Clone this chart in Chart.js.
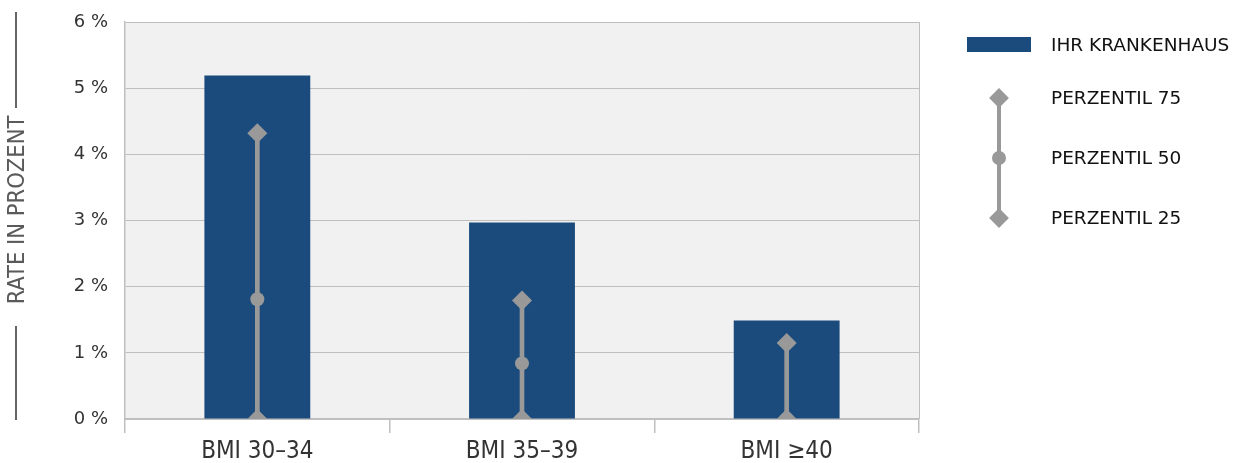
<!DOCTYPE html>
<html lang="de">
<head>
<meta charset="utf-8">
<title>Rate in Prozent nach BMI</title>
<script src="https://cdn.jsdelivr.net/npm/chart.js@4.4.1/dist/chart.umd.min.js"></script>
<style>
  html, body { margin: 0; padding: 0; background: #fff; }
  #wrap { position: relative; width: 1238px; height: 463px; }
  #rateChart { position: absolute; left: 0; top: 0; }
  .ytitle {
    position: absolute; left: 17px; top: 210px;
    transform: translate(-50%, -50%) rotate(-90deg);
    font-family: 'DejaVu Sans Condensed', 'DejaVu Sans', sans-serif;
    font-size: 23.5px; color: #5a5a5a; white-space: nowrap; line-height: 1;
  }
  .yline { position: absolute; left: 15px; width: 2px; background: #666; }
  .legend-item {
    position: absolute; left: 1051px;
    font-family: 'DejaVu Sans', sans-serif; font-size: 18.5px; color: #111;
    line-height: 1; transform: translateY(-50%); white-space: nowrap;
  }
  .lg-bar { position: absolute; left: 967px; top: 37px; width: 64px; height: 15px; background: #1B4B7D; }
  .lg-stem { position: absolute; left: 997px; top: 98px; width: 4px; height: 120px; background: #999; }
  .lg-diamond { position: absolute; width: 14px; height: 14px; background: #999; transform: translate(-50%, -50%) rotate(45deg); }
  .lg-dot { position: absolute; width: 14px; height: 14px; border-radius: 50%; background: #999; transform: translate(-50%, -50%); }
</style>
</head>
<body>
<div id="wrap">
  <canvas id="rateChart" width="1238" height="463"></canvas>

  <div class="yline" style="top:12px;height:96px"></div>
  <div class="ytitle">RATE IN PROZENT</div>
  <div class="yline" style="top:326px;height:94px"></div>

  <div class="lg-bar"></div>
  <div class="legend-item" style="top:45px">IHR KRANKENHAUS</div>
  <div class="lg-stem"></div>
  <div class="lg-diamond" style="left:999px;top:98px"></div>
  <div class="lg-dot" style="left:999px;top:158px"></div>
  <div class="lg-diamond" style="left:999px;top:218px"></div>
  <div class="legend-item" style="top:98px">PERZENTIL 75</div>
  <div class="legend-item" style="top:158px">PERZENTIL 50</div>
  <div class="legend-item" style="top:218px">PERZENTIL 25</div>
</div>

<script>
// ===== Daten =====
const categories = ['BMI 30–34', 'BMI 35–39', 'BMI ≥40'];
const hospitalRate = [5.19, 2.97, 1.49];
const perzentil75 = [4.32, 1.79, 1.15];
const perzentil50 = [1.81, 0.84, 0];
const perzentil25 = [0, 0, 0];
const yTicks = [0, 1, 2, 3, 4, 5, 6];

// ===== Farben =====
const barBlue = '#1B4B7D';
const markerGray = '#999999';
const gridGray = '#bfbfbf';

// Hintergrund + Rahmen der Zeichenfläche
const plotBackground = {
  id: 'plotBackground',
  beforeDraw(chart) {
    const { ctx, chartArea: a } = chart;
    ctx.save();
    ctx.fillStyle = '#f1f1f1';
    ctx.fillRect(a.left, a.top, a.right - a.left, a.bottom - a.top);
    ctx.restore();
  },
  afterDatasetsDraw(chart) {
    const { ctx, chartArea: a } = chart;
    ctx.save();
    ctx.strokeStyle = gridGray;
    ctx.lineWidth = 1;
    ctx.beginPath();
    ctx.moveTo(a.right + 0.5, a.top);
    ctx.lineTo(a.right + 0.5, a.bottom);
    ctx.stroke();
    ctx.restore();
  }
};

const markerBase = {
  type: 'line',
  showLine: false,
  backgroundColor: markerGray,
  borderColor: markerGray,
  borderWidth: 0,
  clip: 0,
};

new Chart(document.getElementById('rateChart').getContext('2d'), {
  type: 'bar',
  data: {
    labels: categories,
    datasets: [
      {
        label: 'IHR KRANKENHAUS',
        data: hospitalRate,
        backgroundColor: barBlue,
        barPercentage: 0.4,
        categoryPercentage: 1,
        grouped: false,
        order: 5,
      },
      {
        label: 'Spanne',
        data: perzentil25.map((v, i) => [v, perzentil75[i]]),
        backgroundColor: markerGray,
        barThickness: 4,
        grouped: false,
        order: 4,
      },
      Object.assign({}, markerBase, { label: 'PERZENTIL 75', data: perzentil75, pointStyle: 'rectRot', pointRadius: 10, order: 3 }),
      Object.assign({}, markerBase, { label: 'PERZENTIL 50', data: perzentil50, pointStyle: 'circle', pointRadius: 7, order: 2 }),
      Object.assign({}, markerBase, { label: 'PERZENTIL 25', data: perzentil25, pointStyle: 'rectRot', pointRadius: 10, order: 1 }),
    ]
  },
  options: {
    responsive: false,
    animation: false,
    events: [],
    layout: { padding: { top: 22, right: 319, bottom: 0, left: 0 } },
    plugins: {
      legend: { display: false },
      tooltip: { enabled: false },
    },
    scales: {
      x: {
        offset: true,
        afterFit(scale) { scale.height = 44; },
        grid: {
          offset: true,
          drawOnChartArea: false,
          drawTicks: true,
          tickLength: 14,
          color: gridGray,
          lineWidth: 1.5,
        },
        border: { display: true, color: gridGray, width: 1.5 },
        ticks: {
          padding: 4,
          color: '#333',
          font: { family: "'DejaVu Sans Condensed', 'DejaVu Sans', sans-serif", size: 24 },
        },
      },
      y: {
        min: 0,
        max: 6,
        afterFit(scale) {
          scale.width = 125;
          scale.paddingTop = 0;
          scale.paddingBottom = 0;
        },
        afterBuildTicks(scale) { scale.ticks = yTicks.map(v => ({ value: v })); },
        grid: { color: gridGray, lineWidth: 1, drawTicks: false },
        border: { display: true, color: gridGray, width: 1.5 },
        ticks: {
          padding: 17,
          color: '#333',
          font: { family: "'DejaVu Sans', sans-serif", size: 18 },
          callback: v => v + ' %',
        },
      }
    }
  },
  plugins: [plotBackground]
});
</script>
</body>
</html>
